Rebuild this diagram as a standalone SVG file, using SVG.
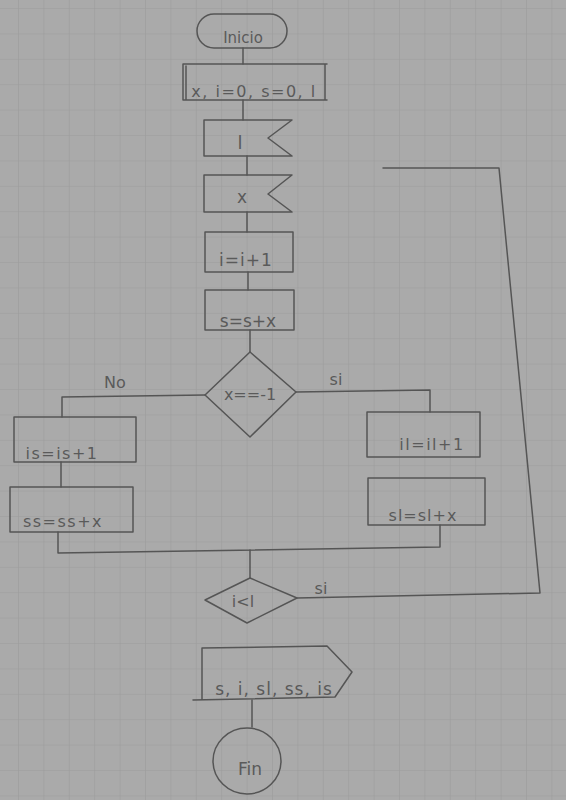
<svg xmlns="http://www.w3.org/2000/svg" width="566" height="800" viewBox="0 0 566 800">
<defs>
<pattern id="grid" x="18" y="8" width="25.4" height="25.4" patternUnits="userSpaceOnUse">
<path d="M0 0H25.4M0 0V25.4" fill="none" stroke="#9c9c9c" stroke-width="1.2"/>
</pattern>
<style>
.s{fill:none;stroke:#555;stroke-width:1.5;stroke-linejoin:round;stroke-linecap:round}
.t{font-family:"DejaVu Sans",sans-serif;font-size:16px;fill:#5a5a5a;text-anchor:middle}
</style>
</defs>
<rect width="566" height="800" fill="#aaaaaa"/>
<rect width="566" height="800" fill="url(#grid)"/>

<g id="connectors" class="s">
<path d="M243 48V64"/>
<path d="M243 100V120"/>
<path d="M247 156V175"/>
<path d="M247 212V232"/>
<path d="M248 272V290"/>
<path d="M250 330V352"/>
<path d="M205 395L62 397V417"/>
<path d="M61 462V487"/>
<path d="M296 392L430 390V412"/>
<path d="M58 532V553L440 547V525"/>
<path d="M250 550V578"/>
<path d="M297 598L540 593L499 168H383"/>
<path d="M252 700V727"/>
</g>
<g id="labels" class="t">
<text x="115" y="388">No</text>
<text x="336" y="385">si</text>
<text x="321" y="594">si</text>
</g>

<g id="inicio"><rect class="s" x="197" y="14" width="90" height="34" rx="17"/><text class="t" x="243" y="43" style="font-size:15px">Inicio</text></g>
<g id="init"><path class="s" d="M183 64H327M183 64V100M186 66V100M325 64V100M183 100H327"/><text class="t" x="254" y="97" style="letter-spacing:1.5px">x, i=0, s=0, l</text></g>
<g id="readL"><path class="s" d="M204 120H292L268 138L292 156H204Z"/><text class="t" x="240" y="149" style="font-size:18px">l</text></g>
<g id="readX"><path class="s" d="M204 175H292L268 194L292 212H204Z"/><text class="t" x="242" y="203" style="font-size:17px">x</text></g>
<g id="incI"><rect class="s" x="205" y="232" width="88" height="40"/><text class="t" x="246" y="266" style="font-size:17px;letter-spacing:1px">i=i+1</text></g>
<g id="sumS"><rect class="s" x="205" y="290" width="89" height="40"/><text class="t" x="248" y="327" style="font-size:17px">s=s+x</text></g>
<g id="cond1"><path class="s" d="M250 352L296 392L250 437L205 395Z"/><text class="t" x="250" y="400">x==-1</text></g>
<g id="incIs"><rect class="s" x="14" y="417" width="122" height="45"/><text class="t" x="62" y="459" style="letter-spacing:1.5px">is=is+1</text></g>
<g id="sumSs"><rect class="s" x="10" y="487" width="123" height="45"/><text class="t" x="63" y="527" style="letter-spacing:1.5px">ss=ss+x</text></g>
<g id="incIl"><rect class="s" x="367" y="412" width="113" height="45"/><text class="t" x="432" y="450" style="letter-spacing:1.5px">il=il+1</text></g>
<g id="sumSl"><rect class="s" x="368" y="478" width="117" height="47"/><text class="t" x="423" y="521" style="letter-spacing:1px">sl=sl+x</text></g>
<g id="cond2"><path class="s" d="M250 578L297 598L247 623L205 600Z"/><text class="t" x="243" y="607">i&lt;l</text></g>
<g id="output"><path class="s" d="M202 648L327 646L352 672L335 697L193 700M202 648V700"/><text class="t" x="274" y="695" style="font-size:17px;letter-spacing:1px">s, i, sl, ss, is</text></g>
<g id="fin"><ellipse class="s" cx="247" cy="761" rx="34" ry="33"/><text class="t" x="250" y="775" style="font-size:17px">Fin</text></g>
</svg>
